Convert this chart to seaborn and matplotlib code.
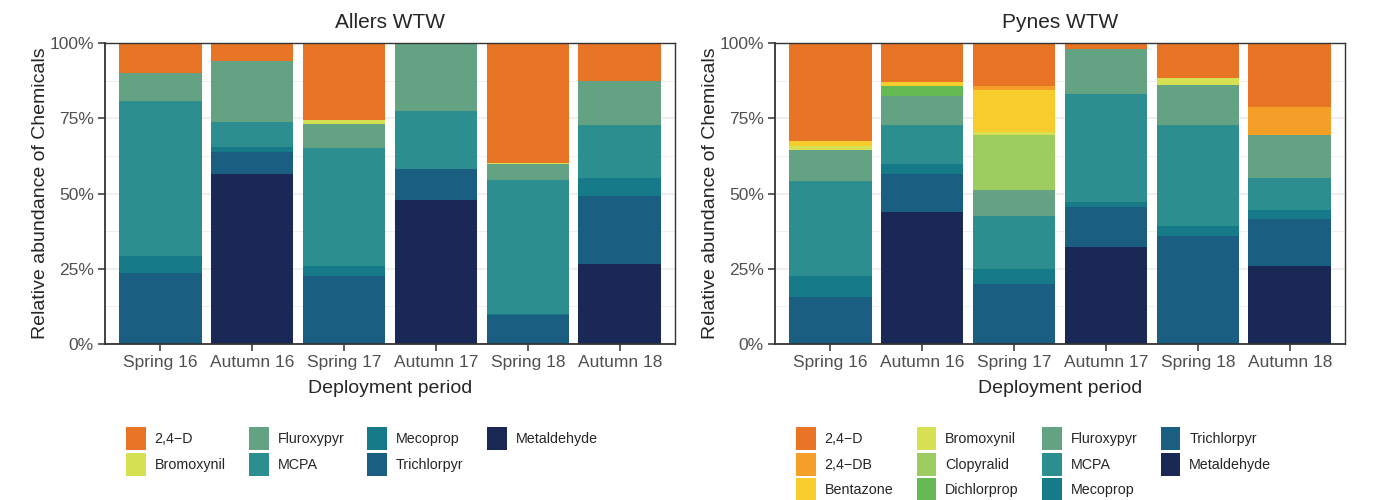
import matplotlib
matplotlib.use("Agg")
import matplotlib.pyplot as plt
from matplotlib.patches import Patch, Rectangle
from matplotlib.legend_handler import HandlerPatch
from matplotlib.ticker import FixedLocator, PercentFormatter
import numpy as np
import pandas as pd
import seaborn as sns

# Deployment periods (x categories)
periods = ["Spring 16", "Autumn 16", "Spring 17", "Autumn 17", "Spring 18", "Autumn 18"]

# Chemical colours
chem_colors = {
    "2,4\u2212D": "#E87425",
    "2,4\u2212DB": "#F49F27",
    "Bentazone": "#F7CD2E",
    "Bromoxynil": "#D5E052",
    "Clopyralid": "#9CCB5F",
    "Dichlorprop": "#66BA53",
    "Fluroxypyr": "#63A384",
    "MCPA": "#2C8E8E",
    "Mecoprop": "#177A89",
    "Trichlorpyr": "#1A5E81",
    "Metaldehyde": "#1A2856",
}

# Allers WTW: relative abundance (%) per chemical, one value per period
allers_chems = ["2,4\u2212D", "Bromoxynil", "Fluroxypyr", "MCPA", "Mecoprop", "Trichlorpyr", "Metaldehyde"]
allers_24d = [10.0, 6.1, 25.5, 0.0, 39.9, 12.7]
allers_bromoxynil = [0.0, 0.0, 1.4, 0.0, 0.3, 0.0]
allers_fluroxypyr = [9.4, 20.2, 8.0, 22.7, 5.4, 14.7]
allers_mcpa = [51.5, 8.4, 39.3, 19.0, 44.3, 17.3]
allers_mecoprop = [5.5, 1.6, 3.1, 0.0, 0.6, 6.0]
allers_trichlorpyr = [23.6, 7.2, 22.7, 10.3, 9.5, 22.6]
allers_metaldehyde = [0.0, 56.6, 0.0, 48.0, 0.0, 26.7]

# Pynes WTW
pynes_chems = ["2,4\u2212D", "2,4\u2212DB", "Bentazone", "Bromoxynil", "Clopyralid", "Dichlorprop",
               "Fluroxypyr", "MCPA", "Mecoprop", "Trichlorpyr", "Metaldehyde"]
pynes_24d = [32.4, 13.0, 14.4, 1.9, 11.6, 21.3]
pynes_24db = [0.0, 0.0, 1.3, 0.0, 0.0, 9.2]
pynes_bentazone = [1.9, 1.4, 14.0, 0.0, 0.0, 0.0]
pynes_bromoxynil = [1.4, 0.0, 0.8, 0.0, 2.2, 0.0]
pynes_clopyralid = [0.0, 0.0, 18.5, 0.0, 0.0, 0.0]
pynes_dichlorprop = [0.0, 3.3, 0.0, 0.0, 0.0, 0.0]
pynes_fluroxypyr = [10.0, 9.6, 8.6, 15.0, 13.5, 14.3]
pynes_mcpa = [31.6, 12.8, 17.4, 36.1, 33.3, 10.6]
pynes_mecoprop = [7.2, 3.2, 5.0, 1.6, 3.5, 3.1]
pynes_trichlorpyr = [15.5, 12.8, 20.0, 13.1, 35.8, 15.5]
pynes_metaldehyde = [0.0, 43.7, 0.0, 32.4, 0.0, 26.0]

allers = pd.DataFrame(
    [allers_24d, allers_bromoxynil, allers_fluroxypyr, allers_mcpa,
     allers_mecoprop, allers_trichlorpyr, allers_metaldehyde],
    index=allers_chems, columns=periods)
pynes = pd.DataFrame(
    [pynes_24d, pynes_24db, pynes_bentazone, pynes_bromoxynil, pynes_clopyralid,
     pynes_dichlorprop, pynes_fluroxypyr, pynes_mcpa, pynes_mecoprop,
     pynes_trichlorpyr, pynes_metaldehyde],
    index=pynes_chems, columns=periods)

sns.set_theme(style="white")
plt.rcParams["font.family"] = ["Liberation Sans", "DejaVu Sans"]

fig = plt.figure(figsize=(13.74, 5.0), dpi=100)
W, H = 1374, 500
ax_l = fig.add_axes([105 / W, 1 - 344 / H, 570 / W, 301 / H])
ax_r = fig.add_axes([775 / W, 1 - 344 / H, 570 / W, 301 / H])

tick_grey = "#505050"


def stacked_fill(ax, table, title):
    # normalise each period to a share of 1 (stack order: first row on top)
    share = table / table.sum(axis=0)
    # cumulative from the bottom of the stack upward
    cum = share.iloc[::-1].cumsum().iloc[::-1]
    for chem in table.index:
        d = pd.DataFrame({"period": periods, "value": cum.loc[chem].values})
        sns.barplot(data=d, x="period", y="value", order=periods, ax=ax,
                    color=chem_colors[chem], saturation=1, width=0.9,
                    linewidth=0, zorder=2)
    ax.set_xlim(-0.6, len(periods) - 0.4)
    ax.set_ylim(0, 1)
    ax.yaxis.set_major_locator(FixedLocator([0, 0.25, 0.5, 0.75, 1.0]))
    ax.yaxis.set_minor_locator(FixedLocator([0.125, 0.375, 0.625, 0.875]))
    ax.yaxis.set_major_formatter(PercentFormatter(1.0, decimals=0))
    ax.grid(axis="y", which="major", color="#EBEBEB", linewidth=1.1, zorder=0)
    ax.grid(axis="y", which="minor", color="#EBEBEB", linewidth=0.6, zorder=0)
    ax.grid(axis="x", visible=False)
    ax.set_axisbelow(True)
    for s in ax.spines.values():
        s.set_visible(True)
        s.set_color("#333333")
        s.set_linewidth(1.0)
    ax.spines["left"].set_linewidth(1.3)
    ax.spines["bottom"].set_linewidth(1.3)
    ax.tick_params(axis="both", which="major", direction="out", length=5,
                   width=1.1, color="#333333", labelsize=12.5,
                   labelcolor=tick_grey, pad=3, left=True, bottom=True)
    ax.tick_params(axis="y", which="minor", length=0)
    ax.set_title(title, fontsize=15, pad=11)
    ax.set_xlabel("Deployment period", fontsize=14, labelpad=7)
    ax.set_ylabel("Relative abundance of Chemicals", fontsize=14, labelpad=0)


stacked_fill(ax_l, allers, "Allers WTW")
stacked_fill(ax_r, pynes, "Pynes WTW")


def key_rect(legend, orig_handle, xdescent, ydescent, width, height, fontsize):
    # legend key filling the whole handle box
    return Rectangle((-xdescent, -ydescent), width, height)


def add_legend(chems, x_px):
    handles = [Patch(facecolor=chem_colors[c], edgecolor="none", linewidth=0)
               for c in chems]
    fig.legend(handles, chems, loc="upper left",
               bbox_to_anchor=(x_px / W, 1 - 427 / H), ncol=4, frameon=False,
               fontsize=10.3, handlelength=1.38, handleheight=2.1,
               handletextpad=0.62, columnspacing=1.62, labelspacing=0.18,
               borderpad=0, borderaxespad=0,
               handler_map={Patch: HandlerPatch(patch_func=key_rect)})


add_legend(allers_chems, 126)
add_legend(pynes_chems, 796)

fig.savefig("out.png", dpi=100)
